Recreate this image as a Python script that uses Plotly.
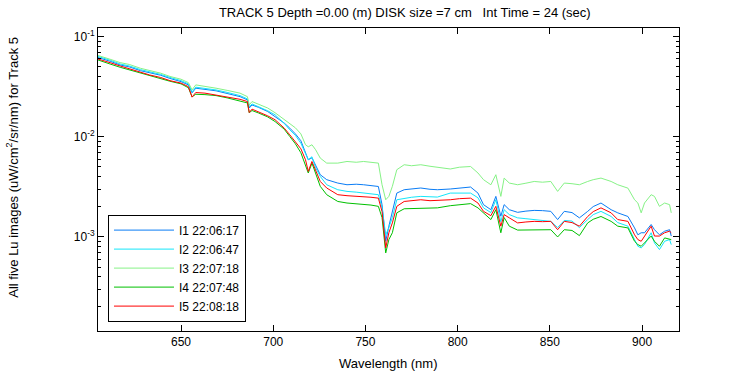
import plotly.graph_objects as go

# Wavelength (nm)
wavelength = [605, 607, 612, 617, 622, 628, 633, 639, 644, 650, 654, 656, 658, 663, 669, 675,
              682, 686, 687, 688.5, 692, 697, 701, 706, 709, 712, 715, 717.5, 719, 721, 723,
              725.5, 729, 735, 740, 745, 749, 753, 757, 759, 761, 762.7, 764.6, 767, 771, 775,
              780, 785, 789, 796, 801, 807, 811, 814, 818, 820.7, 823.4, 825.2, 828, 832.5,
              837, 841.5, 846, 850.5, 854.2, 857.8,
              862, 866, 870.5, 873.5, 877.7, 883.2, 886.8, 892.3, 895.9, 897.7, 899.5, 901.3,
              904.9, 906.7, 909.4, 912.2, 914.9, 915.8]

i1 = [0.0620, 0.0606, 0.0565, 0.0522, 0.0499, 0.0458, 0.0438, 0.0412, 0.0383, 0.0356, 0.0330,
      0.0275, 0.0306, 0.0299, 0.0288, 0.0271, 0.0252, 0.0234, 0.0194, 0.0208, 0.0197, 0.0179,
      0.0160, 0.0137, 0.0122, 0.0107, 0.00913, 0.00693, 0.00590, 0.00617, 0.00526, 0.00418,
      0.00373, 0.00345, 0.00332, 0.00336, 0.00332, 0.00325, 0.00319, 0.00210, 0.000904,
      0.00128, 0.00174, 0.00274, 0.00296, 0.00303, 0.00308, 0.00299, 0.00296, 0.00301,
      0.00306, 0.00315, 0.00274, 0.00210, 0.00187, 0.00254, 0.00161, 0.00210, 0.00187,
      0.00176, 0.00181, 0.00184, 0.00183, 0.00180, 0.00149, 0.00180,
      0.00175, 0.00155, 0.00180, 0.00201, 0.00218, 0.00187, 0.00174, 0.00160, 0.00123,
      0.00105, 0.00110, 0.00110, 0.00133, 0.00118, 0.00105, 0.00114, 0.00118, 0.00102]

i2 = [0.0635, 0.0620, 0.0579, 0.0534, 0.0510, 0.0469, 0.0448, 0.0420, 0.0392, 0.0364, 0.0338,
      0.0281, 0.0313, 0.0306, 0.0294, 0.0278, 0.0258, 0.0239, 0.0199, 0.0213, 0.0201, 0.0182,
      0.0166, 0.0136, 0.01174, 0.01034, 0.00862, 0.00661, 0.00590, 0.00632, 0.00491, 0.00402,
      0.00332, 0.00296, 0.00285, 0.00280, 0.00274, 0.00270, 0.00264, 0.00196, 0.00105,
      0.00124, 0.00156, 0.00235, 0.00244, 0.00249, 0.00254, 0.00252, 0.00250, 0.00274,
      0.00273, 0.00274, 0.00246, 0.00195, 0.00175, 0.00235, 0.00142, 0.00187, 0.00167,
      0.00155, 0.00152, 0.00149, 0.00146, 0.00143, 0.00124, 0.00146,
      0.00144, 0.00124, 0.00149, 0.00167, 0.00180, 0.00160, 0.00139, 0.00128, 0.000940,
      0.000806, 0.000777, 0.000838, 0.00110, 0.000871, 0.000747, 0.000904, 0.000940, 0.000838]

i3 = [0.0650, 0.0635, 0.0592, 0.0551, 0.0528, 0.0484, 0.0460, 0.0432, 0.0401, 0.0376, 0.0348,
      0.0294, 0.0330, 0.0321, 0.0306, 0.0291, 0.0273, 0.0252, 0.0208, 0.0225, 0.0213, 0.0194,
      0.0174, 0.0148, 0.0137, 0.0123, 0.0107, 0.00833, 0.00795, 0.00833, 0.00742, 0.00613,
      0.00546, 0.00546, 0.00567, 0.00557, 0.00567, 0.00557, 0.00546, 0.00332, 0.00235,
      0.00254, 0.00320, 0.00469, 0.00526, 0.00514, 0.00526, 0.00508, 0.00499, 0.00477,
      0.00497, 0.00505, 0.00435, 0.00373, 0.00332, 0.00418, 0.00254, 0.00387, 0.00345,
      0.00332, 0.00344, 0.00358, 0.00352, 0.00358, 0.00285, 0.00345,
      0.00340, 0.00332, 0.00358, 0.00373, 0.00387, 0.00358, 0.00332, 0.00307, 0.00235,
      0.00218, 0.00174, 0.00218, 0.00264, 0.00254, 0.00202, 0.00218, 0.00210, 0.00174]

i4 = [0.0586, 0.0572, 0.0530, 0.0495, 0.0466, 0.0432, 0.0409, 0.0385, 0.0359, 0.0338, 0.0309,
      0.0251, 0.0266, 0.0264, 0.0258, 0.0245, 0.0230, 0.0218, 0.0174, 0.0183, 0.0173, 0.0158,
      0.0142, 0.0119, 0.01006, 0.00852, 0.00693, 0.00506, 0.00435, 0.00546, 0.00428, 0.00320,
      0.00264, 0.00226, 0.00218, 0.00215, 0.00213, 0.00208, 0.00202, 0.00156, 0.000692,
      0.000940, 0.00110, 0.00174, 0.00191, 0.00192, 0.00195, 0.00194, 0.00195, 0.00205,
      0.00210, 0.00215, 0.00195, 0.00174, 0.00149, 0.00187, 0.00110, 0.00156, 0.00128,
      0.00117, 0.00117, 0.00118, 0.00117, 0.00118, 0.000999, 0.00118,
      0.00116, 0.00103, 0.00138, 0.00150, 0.00160, 0.00143, 0.00128, 0.00123, 0.000904,
      0.000838, 0.000806, 0.000871, 0.00102, 0.000904, 0.000806, 0.000977, 0.000940, 0.000940]

i5 = [0.0599, 0.0586, 0.0547, 0.0510, 0.0476, 0.0438, 0.0415, 0.0391, 0.0364, 0.0344, 0.0317,
      0.0249, 0.0277, 0.0273, 0.0262, 0.0251, 0.0237, 0.0225, 0.0175, 0.0189, 0.0178, 0.0162,
      0.0148, 0.0122, 0.01046, 0.00902, 0.00759, 0.00590, 0.00451, 0.00567, 0.00469, 0.00358,
      0.00308, 0.00264, 0.00258, 0.00255, 0.00254, 0.00249, 0.00244, 0.00179, 0.000777,
      0.00110, 0.00138, 0.00202, 0.00226, 0.00230, 0.00235, 0.00230, 0.00231, 0.00235,
      0.00241, 0.00244, 0.00218, 0.00180, 0.00163, 0.00202, 0.00128, 0.00167, 0.00155,
      0.00138, 0.00141, 0.00143, 0.00142, 0.00143, 0.00118, 0.00143,
      0.00139, 0.00128, 0.00160, 0.00179, 0.00195, 0.00174, 0.00149, 0.00143, 0.00105,
      0.000940, 0.000904, 0.00102, 0.00128, 0.00102, 0.00102, 0.00110, 0.00114, 0.00110]

names = ["I1 22:06:17", "I2 22:06:47", "I3 22:07:18", "I4 22:07:48", "I5 22:08:18"]
colors = ["#0A7CF5", "#14E6FA", "#86F286", "#00C000", "#FF0000"]
values = [i1, i2, i3, i4, i5]

x_ticks = [650, 700, 750, 800, 850, 900]
y_ticks = [1e-3, 1e-2, 1e-1]
y_ticktext = ["10<sup>-3</sup>", "10<sup>-2</sup>", "10<sup>-1</sup>"]
y_minor = [k * 10.0 ** e for e in (-4, -3, -2, -1) for k in range(2, 10)]

fig = go.Figure()
for name, vals, col in zip(names, values, colors):
    fig.add_trace(go.Scatter(x=wavelength, y=vals, mode="lines", name=name,
                             line=dict(color=col, width=1)))

font = "Liberation Sans, Arial, Helvetica, sans-serif"
fig.update_layout(
    width=750, height=375,
    margin=dict(l=98, r=71, t=28, b=43.5),
    paper_bgcolor="white", plot_bgcolor="white",
    font=dict(family=font, size=12, color="black"),
    showlegend=True,
    legend=dict(x=0.0172, y=0.031, xanchor="left", yanchor="bottom",
                bordercolor="black", borderwidth=1, bgcolor="white",
                itemwidth=60, font=dict(size=12, family=font)),
    title=dict(text="TRACK 5 Depth =0.00 (m) DISK size =7 cm\u00a0\u00a0\u00a0Int Time = 24 (sec)",
               xref="paper", x=0.528, xanchor="center",
               yref="container", y=1 - 12 / 375, yanchor="middle",
               font=dict(size=13, family=font, color="black")),
)
fig.update_xaxes(range=[605, 920], tickvals=x_ticks, ticks="inside", ticklen=6,
                 showline=True, linecolor="black", linewidth=1, mirror="ticks",
                 showgrid=False, zeroline=False, tickcolor="black")
fig.update_yaxes(type="log", range=[-3.94, -0.913], tickvals=y_ticks, ticktext=y_ticktext,
                 ticks="inside", ticklen=6, tickcolor="black",
                 minor=dict(tickvals=y_minor, ticks="inside", ticklen=3, tickcolor="black"),
                 showline=True, linecolor="black", linewidth=1, mirror="ticks",
                 showgrid=False, zeroline=False)

fig.add_annotation(text="Wavelength (nm)", xref="paper", yref="paper",
                   x=0.5, y=(331.5 - 364) / 303.5, xanchor="center", yanchor="middle",
                   showarrow=False, font=dict(size=13, family=font))
fig.add_annotation(text="All five Lu images (uW/cm<sup>2</sup>/sr/nm) for Track 5",
                   xref="paper", yref="paper", textangle=-90,
                   x=(12 - 98) / 581, y=(331.5 - 168) / 303.5,
                   xanchor="center", yanchor="middle", showarrow=False,
                   font=dict(size=13, family=font))

fig.write_html("out.html", config={"displayModeBar": False},
               post_script="document.body.style.margin='0';document.body.style.overflow='hidden';")
